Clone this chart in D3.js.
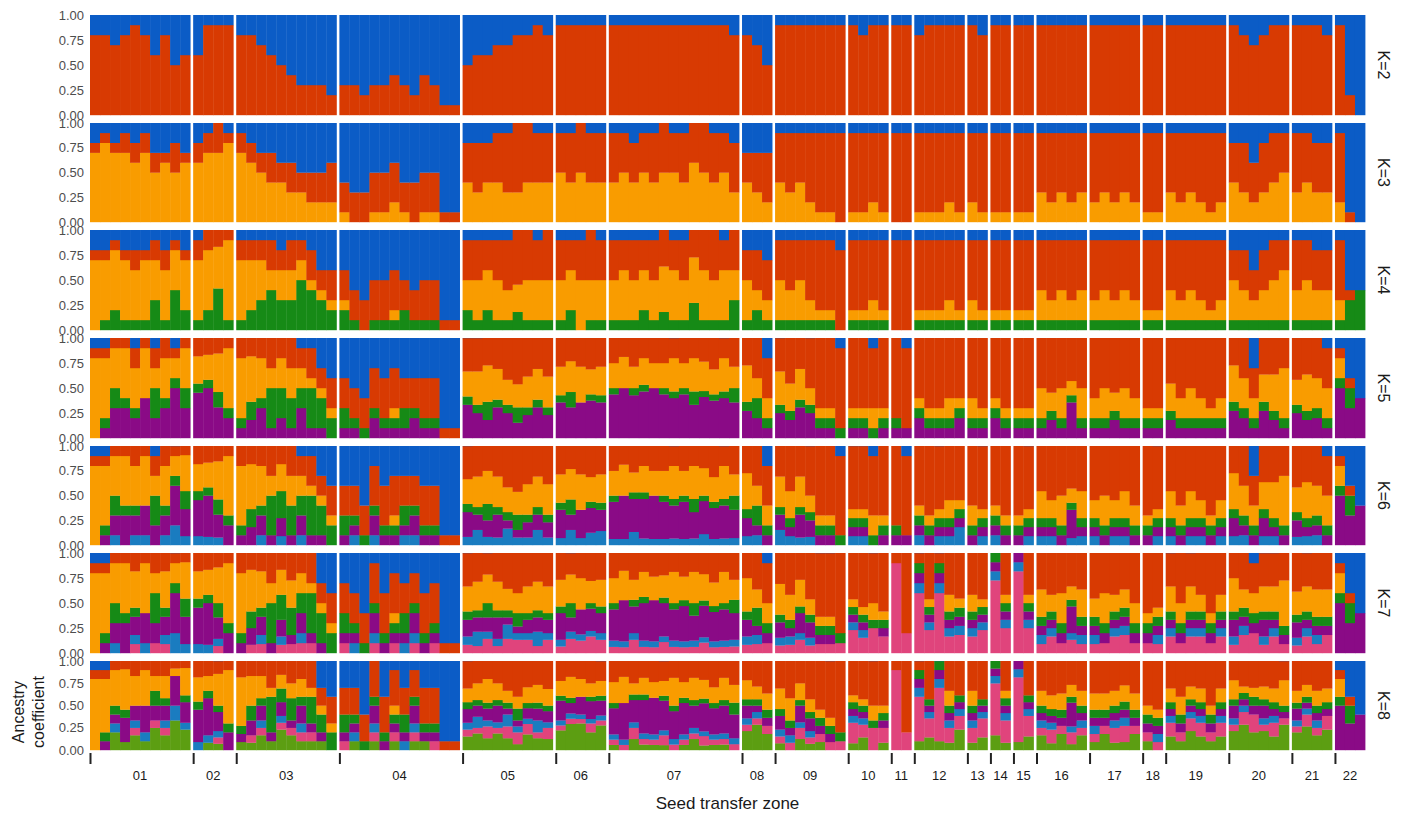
<!DOCTYPE html>
<html><head><meta charset="utf-8">
<script src="https://cdn.jsdelivr.net/npm/d3@7"></script>
<style>body{margin:0;background:#fff;font-family:"Liberation Sans",Arial,sans-serif;}</style>
</head><body><div class="chart"></div>
<script>
// zones and the ancestry of each individual, digits are tenths from bottom cluster up, blue is the rest
var zones = ['01','02','03','04','05','06','07','08','09','10','11','12','13','14','15','16','17','18','19','20','21','22'];
var kLabels = ['K=2','K=3','K=4','K=5','K=6','K=7','K=8'];
var yTicks = [0, 0.25, 0.5, 0.75, 1];

var k2 = ['8 8 7 8 9 8 6 8 5 6','6 9 9 9','8 8 7 6 5 4 3 3 3 2','3 3 2 3 3 4 3 2 4 3 1 1','5 6 6 7 7 8 8 9 8','9 9 9 9 9','9 9 9 9 9 9 9 9 9 9 9 9 8','8 7 5','9 9 9 9 9 9 9','9 8 9 9','9 9','8 9 9 9 9','9 8','9 9','9 9','9 9 9 9 9','9 9 9 9 9','9 9','9 9 9 9 9 9','9 8 7 8 9 9','9 9 9 8','9 2 0'];
var k3 = ['71 81 71 72 62 72 52 61 53 61','62 72 73 81','72 62 52 43 42 33 32 23 23 24','13 03 03 14 14 24 13 04 14 14 01 01','44 35 44 45 36 37 46 45 45','54 45 55 45 45','45 54 44 54 45 55 54 45 64 55 45 54 35','43 34 25','45 36 45 27 18 18 09','18 18 27 18','09 09','18 18 18 27 18','27 18','18 18','18 18','36 27 36 27 36','27 36 27 36 27','18 18','36 27 36 27 18 27','44 35 24 35 45 54','36 45 35 35','27 01 00'];
var k4 = ['071 161 261 161 152 161 342 152 441 251','162 262 552 181','162 252 342 423 332 333 522 413 312 213','213 103 003 104 104 114 203 103 104 104 001 001','234 144 243 144 135 236 145 144 145','144 243 054 145 144','144 153 144 243 144 254 153 144 353 154 145 153 334','143 224 124','144 135 144 126 117 117 008','117 117 126 117','009 009','117 117 117 126 117','126 117','117 117','117 117','135 126 135 126 135','126 135 126 135 126','117 117','135 126 135 126 117 126','143 134 123 134 144 153','135 144 134 134','126 301 400'];
var k5 = ['0081 1161 3241 3151 2142 4051 2322 3142 5121 3241','5132 6132 4252 2161','1162 2252 3142 1423 2332 1333 3222 1413 1312 0213','1203 1103 0103 2104 1104 1114 1203 2103 1104 1104 0001 0001','4134 3144 2243 4144 3135 2236 3145 4144 3145','5144 4243 5054 6145 5144','7144 8053 6134 7143 8044 7144 6153 7144 5253 7154 6145 6153 5234','3143 2224 1124','3144 2135 4144 3126 1117 1117 0108','1117 1117 0126 1117','1108 1008','2116 1117 1117 1126 2116','1126 1117','2116 1117','1117 1117','1135 2126 1135 5126 1135','1126 1135 2126 1135 1126','1117 1117','2135 1126 1135 1126 1117 1126','3143 2134 1123 3134 2144 1153','3135 2144 2134 1134','5121 3201 4000'];
var k6 = ['00081 01161 12241 03151 12142 13051 02322 12142 24121 13241','14132 15132 13252 02161','01162 02252 12142 01423 12332 01333 12222 01413 01312 00213','01203 11103 00103 12104 01104 01114 11203 12103 01104 01104 00001 00001','13134 22144 12243 13144 21135 11236 12145 22144 12145','14144 22243 14054 24145 23144','16144 17053 25134 16143 17044 16144 15153 16144 14253 26154 15145 15153 14234','12143 11224 01124','22144 11135 13144 12126 01117 01117 00108','11117 11117 00126 01117','01108 01008','11116 01117 11117 11126 21116','01126 11117','11116 01117','01117 11117','11135 11126 01135 14126 11135','11126 01135 11126 11135 01126','01117 11117','11135 01126 11135 11126 01117 11126','12143 11134 01123 12134 11144 01153','12135 11144 11134 01134','05121 03201 04000'];
var k7 = ['000081 001161 012241 003151 112142 013051 102322 112142 024121 013241','014132 015132 113252 002161','001162 102252 112142 001423 112332 101333 112222 101413 001312 000213','101203 011103 000103 112104 001104 101114 011203 112103 001104 101104 000001 000001','112134 122144 212243 113144 221135 211236 212145 122144 212145','114144 212243 214054 314145 213144','115144 117053 214134 116143 117044 216144 115153 116144 114253 216154 115145 115153 114234','112143 111224 101124','112144 111135 213144 112126 101117 101117 100108','311116 211117 300126 201117','900001 200008','611101 311116 611101 211125 211115','211125 311116','811100 311115','911000 311115','111134 211125 101134 214125 111134','111125 101134 211125 211124 101125','101116 111116','211134 101125 211134 211125 101116 211125','112143 211124 201123 112134 211134 101153','112135 211134 111134 201134','005121 003201 004000'];
var k8 = ['0000081 0001161 2011141 1003151 2112042 1013041 3102222 2112132 4024011 3013141','0014132 1015122 1113152 0002161','1001162 1102242 2112132 1001413 3112222 2101323 1112122 1101313 1001212 0000213','0101203 1011103 0000103 1112104 0001104 1101114 0011203 1112103 1001104 0101104 0000001 0000001','2112124 3122134 2212143 3113134 2221125 1211226 3212135 2122134 2212135','4114134 5112143 6114044 4214135 5113134','1115144 0117053 2214124 1116133 1117034 1216134 0115153 1116134 2114143 1216144 1115135 1115143 0114234','3112133 4111124 2101124','1112134 0111135 2213134 1112126 1101116 0101117 0100108','1311115 2211116 0300126 1201116','0900001 0200008','1511101 2311106 1611100 1211124 3211105','1211124 2311106','2711100 1311114','1811000 2311105','2111124 1211125 2101124 1214124 2111124','1111124 2101124 1211124 1211123 2101124','1101115 0111116','2211124 1101124 3211124 2211124 1101115 2211124','3112133 4211114 2201113 3112124 2211124 4101143','3112125 4211124 2111124 3201124','0005121 0003201 0004000'];
var allK = [k2, k3, k4, k5, k6, k7, k8];

// bottom-up cluster colours, blue always on top
var blue = '#0b5cc6', red = '#d83a02', orange = '#f99c00', green = '#168a16',
    purple = '#8a0a86', lblue = '#1a7cc0', pink = '#e0447c', lime = '#5c9e12';
var palettes = [
  [red, blue],
  [orange, red, blue],
  [green, orange, red, blue],
  [purple, green, orange, red, blue],
  [lblue, purple, green, orange, red, blue],
  [pink, lblue, purple, green, orange, red, blue],
  [lime, pink, lblue, purple, green, orange, red, blue]
];

var W = 1402, H = 814;
var margin = { left: 90, right: 37 };
var panelTop = [15, 123, 230, 338, 446, 553, 661];
var panelBot = [115, 222, 330, 438, 545, 653, 750];
var gapUnits = 0.3;

var counts = k2.map(s => s.split(' ').length);
var starts = [], pos = 0;
counts.forEach((c, i) => { starts.push(pos); pos += c + (i < counts.length - 1 ? gapUnits : 0); });
var total = pos;

var x = d3.scaleLinear().domain([0, total]).range([margin.left, W - margin.right]);

var svg = d3.select('.chart').append('svg').attr('width', W).attr('height', H);

allK.forEach((kd, ki) => {
  var y = d3.scaleLinear().domain([0, 1]).range([panelBot[ki], panelTop[ki]]);
  var g = svg.append('g');
  var pal = palettes[ki];
  kd.forEach((zs, zi) => {
    zs.split(' ').forEach((ind, ii) => {
      var vals = ind.split('').map(d => +d / 10);
      var sum = d3.sum(vals);
      if (sum > 1) vals = vals.map(v => v / sum);
      vals.push(Math.max(0, 1 - d3.sum(vals)));
      var x0 = x(starts[zi] + ii), x1 = x(starts[zi] + ii + 1);
      var acc = 0;
      vals.forEach((v, ci) => {
        if (v <= 0) return;
        g.append('rect')
          .attr('x', x0).attr('width', x1 - x0 + 0.4)
          .attr('y', y(acc + v)).attr('height', y(acc) - y(acc + v) + 0.2)
          .style('fill', pal[ci]);
        acc += v;
      });
    });
  });
  var ax = g.append('g').attr('transform', 'translate(' + (margin.left - 2) + ',0)')
    .call(d3.axisLeft(y).tickValues(yTicks).tickFormat(d3.format('.2f')).tickSize(0));
  ax.select('.domain').remove();
  ax.selectAll('text').style('font-size', '13px').style('fill', '#4d4d4d').attr('dx', '-1');
  g.append('text')
    .attr('transform', 'translate(' + (W - 24) + ',' + ((panelTop[ki] + panelBot[ki]) / 2) + ') rotate(90)')
    .style('text-anchor', 'middle').style('font-size', '16px').style('fill', '#1a1a1a')
    .text(kLabels[ki]);
});

var bottomY = panelBot[6];
var bx = svg.append('g').attr('transform', 'translate(0,' + (bottomY + 3) + ')')
  .call(d3.axisBottom(x).tickValues(starts).tickFormat('').tickSize(11));
bx.select('.domain').remove();
bx.selectAll('line').style('stroke', '#222').style('stroke-width', 2);

svg.selectAll('.zoneLabel')
  .data(zones)
  .enter()
  .append('text')
  .attr('class', 'zoneLabel')
  .attr('x', (d, i) => x(starts[i] + counts[i] / 2))
  .attr('y', 780)
  .style('text-anchor', 'middle').style('font-size', '13px').style('fill', '#1a1a1a')
  .text(d => d);

svg.append('text').attr('x', (margin.left + W - margin.right) / 2).attr('y', 809)
  .style('text-anchor', 'middle').style('font-size', '17px').style('fill', '#1a1a1a')
  .text('Seed transfer zone');

svg.append('text').attr('transform', 'translate(24,712) rotate(-90)')
  .style('text-anchor', 'middle').style('font-size', '16px').style('fill', '#1a1a1a').text('Ancestry');
svg.append('text').attr('transform', 'translate(44,712) rotate(-90)')
  .style('text-anchor', 'middle').style('font-size', '16px').style('fill', '#1a1a1a').text('coefficient');
</script>
</body></html>
